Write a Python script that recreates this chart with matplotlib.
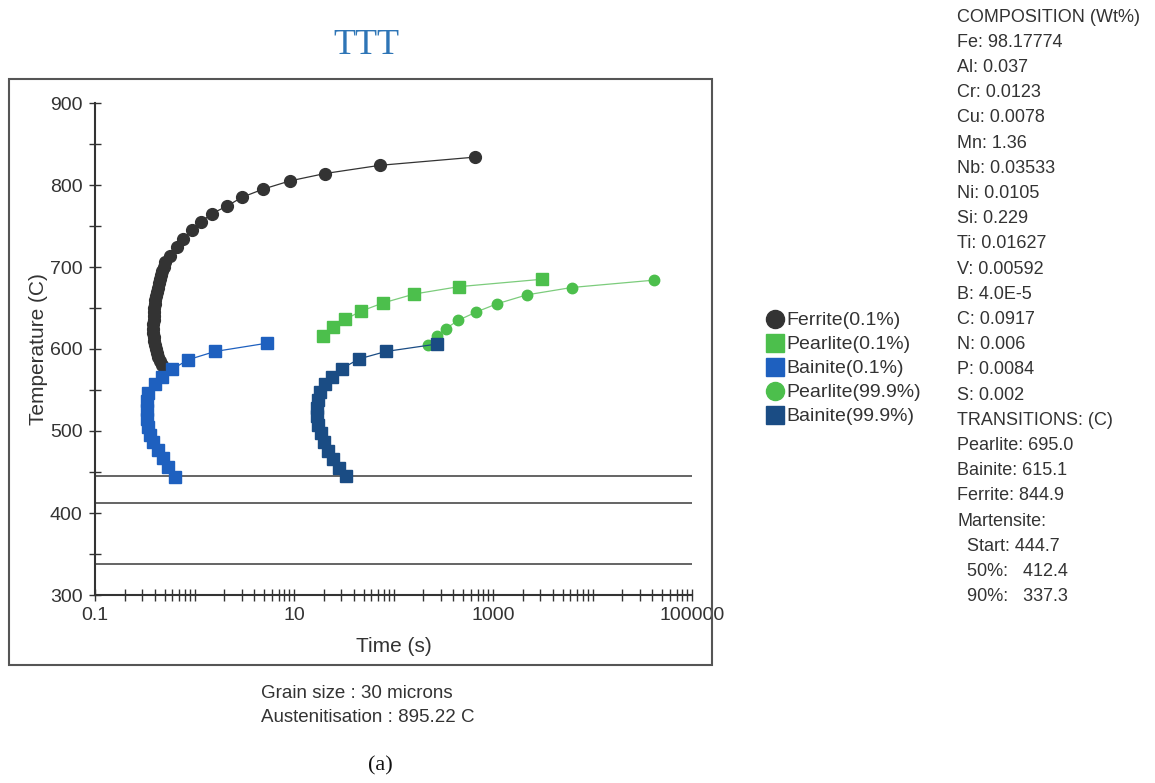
import matplotlib
matplotlib.use("Agg")
import matplotlib.pyplot as plt
from matplotlib.lines import Line2D
from matplotlib.patches import Rectangle
from matplotlib.ticker import LogLocator, NullFormatter, FixedLocator

# ---------------- data ----------------
ferrite_T = [580, 585, 590, 595, 600, 605, 610, 615, 620, 625, 630, 635, 640, 645,
             650, 655, 660, 665, 670, 675, 680, 685, 690, 695, 700, 706, 714, 724,
             734, 745, 755, 765, 774, 785, 795, 805, 814, 824, 834]
ferrite_t = [0.468, 0.45, 0.433, 0.42, 0.41, 0.40, 0.393, 0.388, 0.386, 0.386, 0.386,
             0.388, 0.39, 0.392, 0.395, 0.40, 0.405, 0.41, 0.418, 0.427, 0.437, 0.447,
             0.46, 0.475, 0.49, 0.51, 0.57, 0.66, 0.77, 0.94, 1.16, 1.49, 2.1, 3.0,
             4.9, 9.1, 20.5, 73, 660]

pearlite01_T = [616, 627, 636, 646, 656, 667, 676, 685]
pearlite01_t = [19.7, 24.4, 32.6, 46.8, 77.8, 161, 452, 3083]

bainite01_T = [444, 456, 467, 477, 487, 495, 505, 515, 526, 536, 546, 557, 566, 575,
               587, 597, 607]
bainite01_t = [0.637, 0.545, 0.486, 0.433, 0.386, 0.357, 0.344, 0.333, 0.331, 0.331,
               0.344, 0.40, 0.468, 0.59, 0.867, 1.61, 5.3]

pearlite999_T = [605, 616, 625, 635, 645, 655, 666, 675, 684]
pearlite999_t = [224, 272, 337, 448, 675, 1090, 2183, 6180, 41800]

bainite999_T = [445, 455, 466, 476, 486, 497, 507, 518, 528, 538, 547, 557, 566, 576,
                588, 597, 606]
bainite999_t = [33, 28.5, 24.8, 22.1, 20.2, 18.5, 17.6, 17.0, 16.9, 17.3, 18.2, 20.5,
                23.9, 30.1, 45.3, 84, 272]

martensite_levels = [444.7, 412.4, 337.3]

series_labels = ["Ferrite(0.1%)", "Pearlite(0.1%)", "Bainite(0.1%)",
                 "Pearlite(99.9%)", "Bainite(99.9%)"]

xtick_values = [0.1, 1, 10, 100, 1000, 10000, 100000]
xtick_labels = ["0.1", "", "10", "", "1000", "", "100000"]
ytick_values = [300, 400, 500, 600, 700, 800, 900]
ytick_minor = [350, 450, 550, 650, 750, 850]

composition_lines = [
    "COMPOSITION (Wt%)", "Fe: 98.17774", "Al: 0.037", "Cr: 0.0123", "Cu: 0.0078",
    "Mn: 1.36", "Nb: 0.03533", "Ni: 0.0105", "Si: 0.229", "Ti: 0.01627",
    "V: 0.00592", "B: 4.0E-5", "C: 0.0917", "N: 0.006", "P: 0.0084", "S: 0.002",
    "TRANSITIONS: (C)", "Pearlite: 695.0", "Bainite: 615.1", "Ferrite: 844.9",
    "Martensite:", "  Start: 444.7", "  50%:   412.4", "  90%:   337.3",
]
footer_lines = ["Grain size : 30 microns", "Austenitisation : 895.22 C"]

# ---------------- style ----------------
c_ferrite = "#333333"
c_pearl = "#4cbf4c"
c_pearl_line = "#7ccc7c"
c_bain1 = "#1e60bf"
c_bain2 = "#1a4c84"
sans = "Liberation Sans"
txt_col = "#333333"

W, H = 1155, 783
fig = plt.figure(figsize=(W / 100, H / 100), dpi=100)
fig.patch.set_facecolor("white")

def fx(px):
    return px / W

def fy(py):
    return 1 - py / H

ax = fig.add_axes([fx(95), fy(595), fx(692) - fx(95), fy(103) - fy(595)])

ax.plot(ferrite_t, ferrite_T, color=c_ferrite, lw=0.9, marker="o", ms=8.5,
        mec=c_ferrite, mfc=c_ferrite, zorder=3)
ax.plot(pearlite01_t, pearlite01_T, color=c_pearl_line, lw=0.9, marker="s", ms=8,
        mec=c_pearl, mfc=c_pearl, zorder=3)
ax.plot(bainite01_t, bainite01_T, color=c_bain1, lw=0.9, marker="s", ms=8,
        mec=c_bain1, mfc=c_bain1, zorder=4)
ax.plot(pearlite999_t, pearlite999_T, color=c_pearl_line, lw=0.9, marker="o", ms=7.5,
        mec=c_pearl, mfc=c_pearl, zorder=3)
ax.plot(bainite999_t, bainite999_T, color=c_bain2, lw=0.9, marker="s", ms=8,
        mec=c_bain2, mfc=c_bain2, zorder=4)

for lvl in martensite_levels:
    ax.axhline(lvl, color="#3a3a3a", lw=1.1, zorder=2)

ax.set_xscale("log")
ax.set_xlim(0.1, 100000)
ax.set_ylim(300, 900)
ax.xaxis.set_major_locator(FixedLocator(xtick_values))
ax.set_xticklabels(xtick_labels)
ax.xaxis.set_minor_locator(LogLocator(base=10, subs=range(2, 10), numticks=20))
ax.xaxis.set_minor_formatter(NullFormatter())
ax.set_yticks(ytick_values)
ax.set_yticks(ytick_minor, minor=True)

for s in ["top", "right"]:
    ax.spines[s].set_visible(False)
for s in ["left", "bottom"]:
    ax.spines[s].set_color("#333333")
    ax.spines[s].set_linewidth(1.5)

ax.tick_params(which="both", direction="inout", length=8, width=1.0, color="#333333",
               labelsize=14, labelcolor=txt_col, pad=5)
for lab in ax.get_xticklabels() + ax.get_yticklabels():
    lab.set_fontfamily(sans)

ax.set_xlabel("Time (s)", fontsize=15, family=sans, color=txt_col, labelpad=9)
ax.set_ylabel("Temperature (C)", fontsize=15, family=sans, color=txt_col, labelpad=1)

# legend
handles = [
    Line2D([], [], ls="none", marker="o", ms=13, mfc=c_ferrite, mec=c_ferrite),
    Line2D([], [], ls="none", marker="s", ms=13, mfc=c_pearl, mec=c_pearl),
    Line2D([], [], ls="none", marker="s", ms=13, mfc=c_bain1, mec=c_bain1),
    Line2D([], [], ls="none", marker="o", ms=13, mfc=c_pearl, mec=c_pearl),
    Line2D([], [], ls="none", marker="s", ms=13, mfc=c_bain2, mec=c_bain2),
]
leg = fig.legend(handles, series_labels, loc="upper left",
                 bbox_to_anchor=(fx(757), fy(302)), frameon=False,
                 prop={"family": sans, "size": 14}, handlelength=0.9,
                 handletextpad=0.1, labelspacing=0.33, borderpad=0)
for t in leg.get_texts():
    t.set_color(txt_col)

# outer frame
fig.add_artist(Rectangle((fx(9), fy(665)), fx(712) - fx(9), fy(79) - fy(665),
                         transform=fig.transFigure, fill=False, ec="#555555", lw=1.5))

# title
fig.text(fx(366), fy(45), "TTT", ha="center", va="center", fontsize=26,
         family="Liberation Serif", color="#2e75b6")

# composition
for i, line in enumerate(composition_lines):
    fig.text(fx(957), fy(17 + 25.2 * i), line, ha="left", va="center",
             fontsize=13, family=sans, color=txt_col)

# footer
for i, line in enumerate(footer_lines):
    fig.text(fx(261), fy(694 + 23.5 * i), line, ha="left", va="center",
             fontsize=13.5, family=sans, color=txt_col)

fig.text(fx(380), fy(766), "(a)", ha="center", va="center", fontsize=16,
         family="Liberation Serif", color="#111111")

fig.savefig("out.png", dpi=100, facecolor="white")
